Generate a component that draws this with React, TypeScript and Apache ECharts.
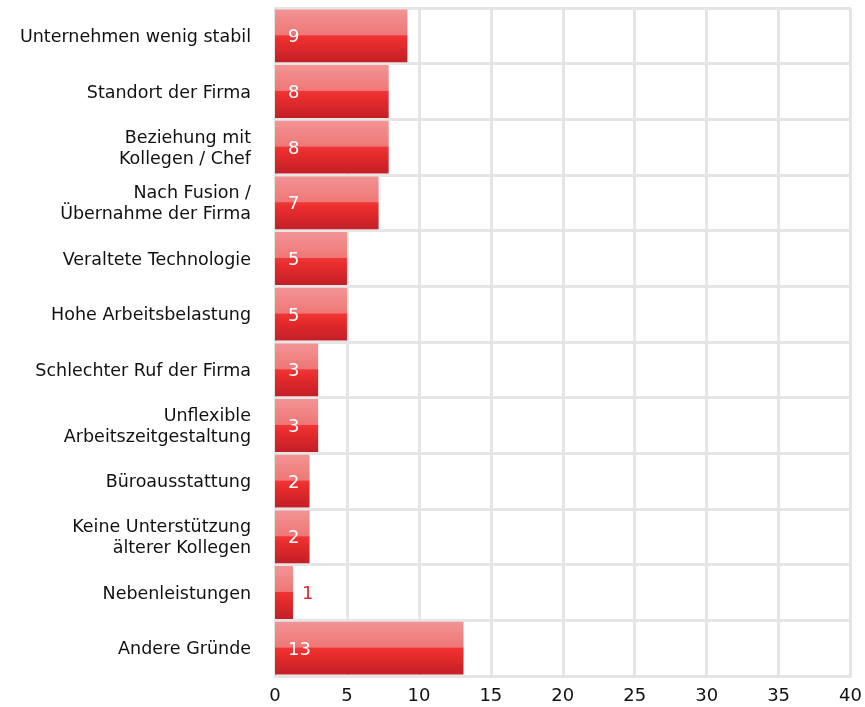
import React, { useEffect, useRef } from "react";
import * as echarts from "echarts";

const categories = [
  "Unternehmen wenig stabil",
  "Standort der Firma",
  "Beziehung mit\nKollegen / Chef",
  "Nach Fusion /\nÜbernahme der Firma",
  "Veraltete Technologie",
  "Hohe Arbeitsbelastung",
  "Schlechter Ruf der Firma",
  "Unflexible\nArbeitszeitgestaltung",
  "Büroausstattung",
  "Keine Unterstützung\nälterer Kollegen",
  "Nebenleistungen",
  "Andere Gründe",
];
const values = [9.2, 7.9, 7.9, 7.2, 5.0, 5.0, 3.0, 3.0, 2.4, 2.4, 1.25, 13.1];
const xTicks = [0, 5, 10, 15, 20, 25, 30, 35, 40];

const FONT = "DejaVu Sans";

export default function App() {
  const ref = useRef<HTMLDivElement>(null);
  useEffect(() => {
    if (!ref.current) return;
    const chart = echarts.init(ref.current, undefined, { renderer: "svg" });
    const barColor = new echarts.graphic.LinearGradient(0, 0, 0, 1, [
      { offset: 0, color: "#f39494" },
      { offset: 0.48, color: "#ef7777" },
      { offset: 0.5, color: "#ef3535" },
      { offset: 0.6, color: "#ea2d2d" },
      { offset: 1, color: "#c21f26" },
    ]);
    chart.setOption({
      animation: false,
      grid: { left: 275, right: 13, top: 8, bottom: 31, containLabel: false },
      xAxis: {
        type: "value",
        min: xTicks[0],
        max: xTicks[xTicks.length - 1],
        interval: 5,
        axisLine: { show: true, lineStyle: { color: "#e5e5e5", width: 3 } },
        axisTick: { show: false },
        axisLabel: {
          color: "#111111",
          fontFamily: FONT,
          fontSize: 18,
          margin: 9,
        },
        splitLine: { show: true, lineStyle: { color: "#e5e5e5", width: 3 } },
      },
      yAxis: {
        type: "category",
        data: categories,
        inverse: true,
        axisLine: { show: true, lineStyle: { color: "#e5e5e5", width: 3 } },
        axisTick: { show: false },
        axisLabel: {
          color: "#111111",
          fontFamily: FONT,
          fontSize: 17.5,
          margin: 24,
          lineHeight: 21,
          align: "right",
        },
        splitLine: { show: true, lineStyle: { color: "#e5e5e5", width: 3 } },
      },
      series: [
        {
          type: "bar",
          barCategoryGap: "5%",
          data: values.map((v) =>
            v < 1.5
              ? {
                  value: v,
                  label: { position: "right", color: "#e8282c", distance: 9 },
                }
              : { value: v }
          ),
          itemStyle: { color: barColor },
          label: {
            show: true,
            position: "insideLeft",
            distance: 13,
            color: "#ffffff",
            fontFamily: FONT,
            fontSize: 18,
            formatter: (p: any) => String(Math.round(p.value)),
          },
        },
      ],
    });
    return () => chart.dispose();
  }, []);
  return (
    <div
      ref={ref}
      style={{ position: "fixed", left: 0, top: 0, width: 865, height: 707 }}
    />
  );
}
